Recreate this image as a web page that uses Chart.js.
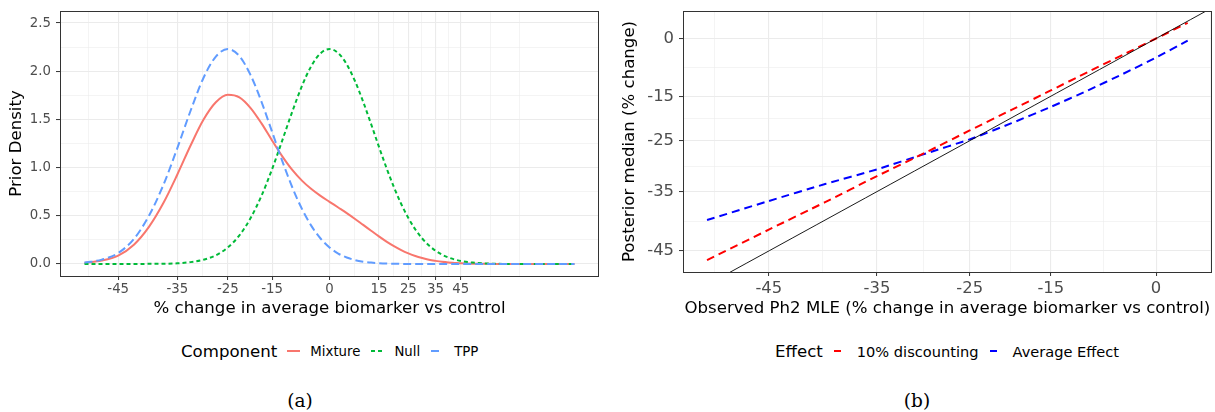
<!DOCTYPE html>
<html>
<head>
<meta charset="utf-8">
<title>Prior density and posterior median</title>
<script src="https://cdn.jsdelivr.net/npm/chart.js"></script>
<style>
  body { margin: 0; width: 1215px; height: 412px; background: #fff; position: relative; overflow: hidden; font-family: "DejaVu Sans", sans-serif; }
  .panel { position: absolute; top: 0; height: 322px; }
  #panel-a { left: 0; width: 607px; }
  #panel-b { left: 607px; width: 608px; }
  .legend { position: absolute; top: 341px; height: 20px; display: flex; align-items: center; white-space: nowrap; color: #000; }
  .legend .title { font-size: 16.6px; margin-right: 8px; }
  .legend svg { display: block; margin-right: 8px; }
  .legend .item { margin-right: 9px; }
  #legend-a { left: 181px; }
  #legend-a .item { font-size: 13.3px; }
  #legend-b { left: 775px; }
  #legend-b .title { margin-right: 9px; }
  #legend-b .item { font-size: 14.6px; }
  .caption { position: absolute; top: 390px; line-height: 22px; font-family: "DejaVu Serif", serif; font-size: 18.5px; transform: translateX(-50%); }
</style>
</head>
<body>
<div class="panel" id="panel-a"><canvas id="densityChart"></canvas></div>
<div class="panel" id="panel-b"><canvas id="medianChart"></canvas></div>

<div class="legend" id="legend-a">
  <span class="title">Component</span>
  <svg width="17" height="10"><line x1="2" y1="5" x2="15" y2="5" stroke="#F8766D" stroke-width="2"/></svg>
  <span class="item">Mixture</span>
  <svg width="17" height="10"><line x1="2" y1="5" x2="15" y2="5" stroke="#00BA38" stroke-width="2" stroke-dasharray="4 3"/></svg>
  <span class="item">Null</span>
  <svg width="17" height="10"><line x1="2" y1="5" x2="15" y2="5" stroke="#619CFF" stroke-width="2" stroke-dasharray="8 6"/></svg>
  <span class="item">TPP</span>
</div>
<div class="legend" id="legend-b">
  <span class="title">Effect</span>
  <svg width="17" height="10"><line x1="2" y1="5" x2="15" y2="5" stroke="#FF0000" stroke-width="2" stroke-dasharray="7 8"/></svg>
  <span class="item">10% discounting</span>
  <svg width="17" height="10"><line x1="2" y1="5" x2="15" y2="5" stroke="#0000FF" stroke-width="2" stroke-dasharray="7 8"/></svg>
  <span class="item">Average Effect</span>
</div>
<div class="caption" style="left:300px">(a)</div>
<div class="caption" style="left:917px">(b)</div>

<script>
// (a) prior densities, x = % change (plotted on log(1 + x/100))
const pctGrid  = [-50, -47.5, -45, -42.5, -40, -37.5, -35, -32.5, -30, -27.5, -25, -22.5, -20, -17.5, -15, -12.5, -10, -7.5, -5, -2.5,
                  0, 2.5, 5, 7.5, 10, 12.5, 15, 17.5, 20, 22.5, 25, 27.5, 30, 32.5, 35, 37.5, 40, 42.5, 45, 50, 55, 60, 70, 80, 90, 100];
const mixture  = [0.011, 0.035, 0.087, 0.2, 0.385, 0.632, 0.926, 1.229, 1.496, 1.678, 1.756, 1.729, 1.618, 1.459, 1.282, 1.117, 0.976, 0.865, 0.777, 0.706,
                  0.645, 0.586, 0.528, 0.467, 0.405, 0.345, 0.286, 0.232, 0.185, 0.144, 0.11, 0.082, 0.061, 0.044, 0.032, 0.022, 0.015, 0.011, 0.007, 0.003, 0.001, 0, 0, 0, 0, 0];
const nullComp = [0, 0, 0, 0, 0.001, 0.002, 0.007, 0.019, 0.043, 0.09, 0.171, 0.297, 0.477, 0.708, 0.983, 1.283, 1.58, 1.847, 2.055, 2.186,
                  2.23, 2.188, 2.071, 1.896, 1.683, 1.451, 1.217, 0.996, 0.796, 0.622, 0.477, 0.358, 0.264, 0.192, 0.137, 0.096, 0.067, 0.046, 0.031, 0.014, 0.006, 0.002, 0, 0, 0, 0];
const tpp      = [0.014, 0.045, 0.113, 0.26, 0.5, 0.82, 1.2, 1.59, 1.93, 2.152, 2.23, 2.157, 1.959, 1.683, 1.372, 1.067, 0.796, 0.571, 0.395, 0.264,
                  0.171, 0.108, 0.067, 0.04, 0.024, 0.014, 0.008, 0.004, 0.002, 0.001, 0, 0, 0, 0, 0, 0, 0, 0, 0, 0, 0, 0, 0, 0, 0, 0];
const densityXTicks = [-45, -35, -25, -15, 0, 15, 25, 35, 45];
const densityYTicks = [0, 0.5, 1, 1.5, 2, 2.5];

// (b) posterior median vs observed MLE, both in % change
const mlePct        = [-50, -45, -40, -35, -30, -25, -20, -15, -10, -5, 0, 5];
const discount10    = [-46.4, -41.6, -36.9, -32.1, -27.5, -22.8, -18.2, -13.6, -9.0, -4.5, 0, 4.5];
const averageEffect = [-40.0, -36.7, -33.6, -30.8, -27.7, -24.7, -21.2, -17.5, -13.6, -9.5, -5.2, -0.6];
const identityPct   = [-60, 10];
const mleTicks    = [-45, -35, -25, -15, 0];
const medianTicks = [-45, -35, -25, -15, 0];

const toLog = p => Math.log(1 + p / 100);

Chart.defaults.font.family = '"DejaVu Sans", sans-serif';
Chart.defaults.color = '#4D4D4D';

// major breaks plus ggplot-like minor breaks (half way, extended one step past the ends)
function gridTicks(values, labels) {
  const step = values[1] - values[0];
  const ext = [values[0] - step, ...values, values[values.length - 1] + step];
  const out = [];
  ext.forEach((v, i) => {
    const major = i > 0 && i < ext.length - 1;
    out.push(major ? {value: v, label: labels[i - 1]} : {value: v, minor: true});
    if (i < ext.length - 1) out.push({value: (v + ext[i + 1]) / 2, minor: true});
  });
  return out;
}
function setTicks(list) {
  return scale => {
    scale.ticks = list.filter(t => t.value >= scale.min - 1e-9 && t.value <= scale.max + 1e-9);
  };
}
// fixed axis size, and no extra room for overhanging labels
function fixSize(key, px) {
  return s => {
    s[key] = px;
    s.paddingTop = s.paddingBottom = s.paddingLeft = s.paddingRight = 0;
  };
}

const grid = {
  color: '#EBEBEB',
  lineWidth: c => c.tick && c.tick.minor ? 0.55 : 1.1,
  tickColor: c => c.tick && c.tick.minor ? 'rgba(0,0,0,0)' : '#333333',
  tickLength: 4,
  tickWidth: 1
};
const tickLabel = (v, i, ticks) => ticks[i].label || '';

const panelBorder = {
  id: 'panelBorder',
  afterDraw(chart) {
    const {ctx, chartArea: a} = chart;
    ctx.save();
    ctx.strokeStyle = '#333333';
    ctx.lineWidth = 1;
    ctx.strokeRect(Math.round(a.left) + 0.5, Math.round(a.top) + 0.5,
      Math.round(a.right - a.left) - 1, Math.round(a.bottom - a.top));
    ctx.restore();
  }
};

// ---- (a)
const pts = arr => pctGrid.map((p, i) => ({x: toLog(p), y: arr[i]}));
const xa0 = toLog(pctGrid[0]), xa1 = toLog(pctGrid[pctGrid.length - 1]);
const padA = (xa1 - xa0) * 0.05;

new Chart(document.getElementById('densityChart'), {
  type: 'line',
  data: {
    datasets: [
      {label: 'Mixture', data: pts(mixture), borderColor: '#F8766D', borderWidth: 2, order: 3},
      {label: 'Null', data: pts(nullComp), borderColor: '#00BA38', borderWidth: 2, borderDash: [4, 3], order: 2},
      {label: 'TPP', data: pts(tpp), borderColor: '#619CFF', borderWidth: 2, borderDash: [8, 4], order: 1}
    ]
  },
  options: {
    responsive: true,
    maintainAspectRatio: false,
    animation: false,
    layout: {padding: {top: 11, right: 8, left: 0, bottom: 0}},
    elements: {point: {radius: 0}, line: {cubicInterpolationMode: 'monotone'}},
    plugins: {legend: {display: false}, tooltip: {enabled: false}},
    scales: {
      x: {
        type: 'linear', min: xa0 - padA, max: xa1 + padA,
        afterBuildTicks: setTicks(gridTicks(densityXTicks.map(toLog), densityXTicks.map(String))),
        afterFit: fixSize('height', 46),
        grid: grid, border: {display: false},
        ticks: {callback: tickLabel, autoSkip: false, maxRotation: 0, padding: 2, font: {size: 13.3}},
        title: {display: true, text: '% change in average biomarker vs control', color: '#000', font: {size: 16.6}, padding: {top: 0, bottom: 3.7}}
      },
      y: {
        type: 'linear', min: -0.125, max: 2.625,
        afterBuildTicks: setTicks(gridTicks(densityYTicks, densityYTicks.map(v => v.toFixed(1)))),
        afterFit: fixSize('width', 60),
        grid: grid, border: {display: false},
        ticks: {callback: tickLabel, autoSkip: false, padding: 5, font: {size: 13.3}},
        title: {display: true, text: 'Prior Density', color: '#000', font: {size: 16.6}, padding: {top: 6.7, bottom: 0}}
      }
    }
  },
  plugins: [panelBorder]
});

// ---- (b)
const line = arr => mlePct.map((p, i) => ({x: toLog(p), y: toLog(arr[i])}));
const xb0 = toLog(mlePct[0]), xb1 = toLog(mlePct[mlePct.length - 1]);
const padB = (xb1 - xb0) * 0.05;
const yAll = discount10.concat(averageEffect).map(toLog);
const yb0 = Math.min(...yAll), yb1 = Math.max(...yAll);
const padBy = (yb1 - yb0) * 0.05;

new Chart(document.getElementById('medianChart'), {
  type: 'line',
  data: {
    datasets: [
      {label: 'y = x', data: identityPct.map(p => ({x: toLog(p), y: toLog(p)})), borderColor: '#000000', borderWidth: 0.9, clip: 0},
      {label: '10% discounting', data: line(discount10), borderColor: '#FF0000', borderWidth: 2, borderDash: [8, 5]},
      {label: 'Average Effect', data: line(averageEffect), borderColor: '#0000FF', borderWidth: 2, borderDash: [8, 5]}
    ]
  },
  options: {
    responsive: true,
    maintainAspectRatio: false,
    animation: false,
    layout: {padding: {top: 11, right: 3.3, left: 0, bottom: 0}},
    elements: {point: {radius: 0}, line: {tension: 0.2}},
    plugins: {legend: {display: false}, tooltip: {enabled: false}},
    scales: {
      x: {
        type: 'linear', min: xb0 - padB, max: xb1 + padB,
        afterBuildTicks: setTicks(gridTicks(mleTicks.map(toLog), mleTicks.map(String))),
        afterFit: fixSize('height', 50),
        grid: grid, border: {display: false},
        ticks: {callback: tickLabel, autoSkip: false, maxRotation: 0, padding: 2.5, font: {size: 16.4}},
        title: {display: true, text: 'Observed Ph2 MLE (% change in average biomarker vs control)', color: '#000', font: {size: 16.6}, padding: {top: 0, bottom: 3}}
      },
      y: {
        type: 'linear', min: yb0 - padBy, max: yb1 + padBy,
        afterBuildTicks: setTicks(gridTicks(medianTicks.map(toLog), medianTicks.map(String))),
        afterFit: fixSize('width', 76),
        grid: grid, border: {display: false},
        ticks: {callback: tickLabel, autoSkip: false, padding: 5, font: {size: 16.4}},
        title: {display: true, text: 'Posterior median (% change)', color: '#000', font: {size: 16.6}, padding: {top: 13, bottom: 0}}
      }
    }
  },
  plugins: [panelBorder]
});
</script>
</body>
</html>
